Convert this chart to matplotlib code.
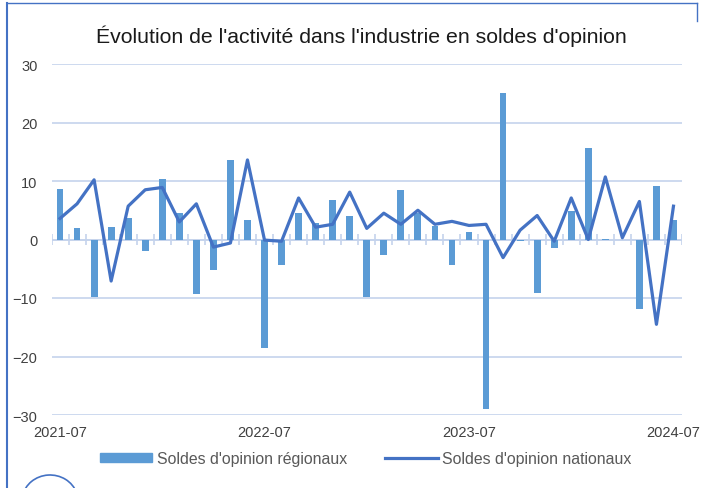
import numpy as np
import pandas as pd
import matplotlib
matplotlib.use("Agg")
import matplotlib.pyplot as plt
from matplotlib.lines import Line2D
from matplotlib.patches import Patch, Arc

plt.rcParams['font.family'] = ['Liberation Sans', 'DejaVu Sans']

# monthly categories, 2021-07 to 2024-07
months = [str(p) for p in pd.period_range('2021-07', '2024-07', freq='M')]

# regional opinion balances (bars)
regional = [8.6, 2.0, -9.8, 2.1, 3.6, -2.0, 10.4, 4.5, -9.4, -5.2,
            13.6, 3.4, -18.6, -4.4, 4.5, 2.8, 6.8, 4.1, -9.8, -2.7,
            8.5, 4.5, 2.3, -4.3, 1.3, -29.0, 25.1, -0.3, -9.1, -1.4,
            4.8, 15.7, 0.1, 0.0, -11.8, 9.1, 3.4]

# national opinion balances (line)
national = [3.6, 6.1, 10.2, -7.1, 5.7, 8.5, 8.9, 3.0, 6.1, -1.3,
            -0.6, 13.6, -0.1, -0.3, 7.1, 2.1, 2.6, 8.1, 1.9, 4.5,
            2.6, 5.0, 2.6, 3.1, 2.4, 2.6, -3.1, 1.6, 4.1, -0.3,
            7.1, 0.0, 10.7, 0.3, 6.5, -14.5, 5.7]

tick_labels = ['2021-07', '2022-07', '2023-07', '2024-07']

bar_color = '#5b9bd5'
line_color = '#4472c4'
grid_color = '#c5d3ec'

fig = plt.figure(figsize=(7.08, 4.89), dpi=100)
ax = fig.add_axes([51.5 / 708, 73 / 489, 630.5 / 708, 351 / 489])

x = np.arange(len(months))
ax.bar(x, regional, width=0.4, color=bar_color, zorder=2)
ax.plot(x, national, color=line_color, linewidth=2.3, zorder=3,
        solid_joinstyle='round')

ax.set_xlim(-0.5, len(months) - 0.5)
ax.set_ylim(-30, 30)
ax.set_yticks(range(-30, 31, 10))
ax.yaxis.grid(True, color=grid_color, linewidth=1.2, zorder=0)
for s in ax.spines.values():
    s.set_visible(False)

# zero axis with small category ticks
ax.axhline(0, color=grid_color, linewidth=1.2, zorder=1)
ax.vlines(np.arange(len(months) + 1) - 0.5, -0.9, 0.9, color=grid_color,
          linewidth=1.2, zorder=1)

ax.set_xticks([months.index(t) for t in tick_labels])
ax.set_xticklabels(tick_labels)
ax.tick_params(axis='both', length=0, labelsize=10.5, labelcolor='#404040')
ax.tick_params(axis='x', pad=7)
ax.tick_params(axis='y', pad=10)

fig.text(0.511, 0.925, "Évolution de l'activité dans l'industrie en soldes d'opinion",
         ha='center', va='center', fontsize=15.3, color='#1a1a1a')

handles = [Patch(color=bar_color), Line2D([0], [0], color=line_color, linewidth=2.3)]
fig.legend(handles, ["Soldes d'opinion régionaux", "Soldes d'opinion nationaux"],
           loc='center', bbox_to_anchor=(0.517, 0.061), ncol=2, frameon=False,
           fontsize=11.4, labelcolor='#595959', handlelength=3.3,
           handleheight=0.5, handletextpad=0.3, columnspacing=2.4)

# frame lines of the original graphic
fig.add_artist(Line2D([7 / 708, 7 / 708], [0, 1 - 4 / 489], color=line_color, linewidth=1.5))
fig.add_artist(Line2D([7 / 708, 697 / 708], [1 - 4 / 489, 1 - 4 / 489], color=line_color, linewidth=1.0))
fig.add_artist(Line2D([697 / 708, 697 / 708], [1 - 4 / 489, 1 - 22 / 489], color=line_color, linewidth=1.0))
fig.add_artist(Arc((50 / 708, 1 - 502 / 489), 56 / 708, 52 / 489, theta1=25, theta2=165,
                   color=line_color, linewidth=1.2, transform=fig.transFigure))

fig.savefig('out.png', dpi=100)
